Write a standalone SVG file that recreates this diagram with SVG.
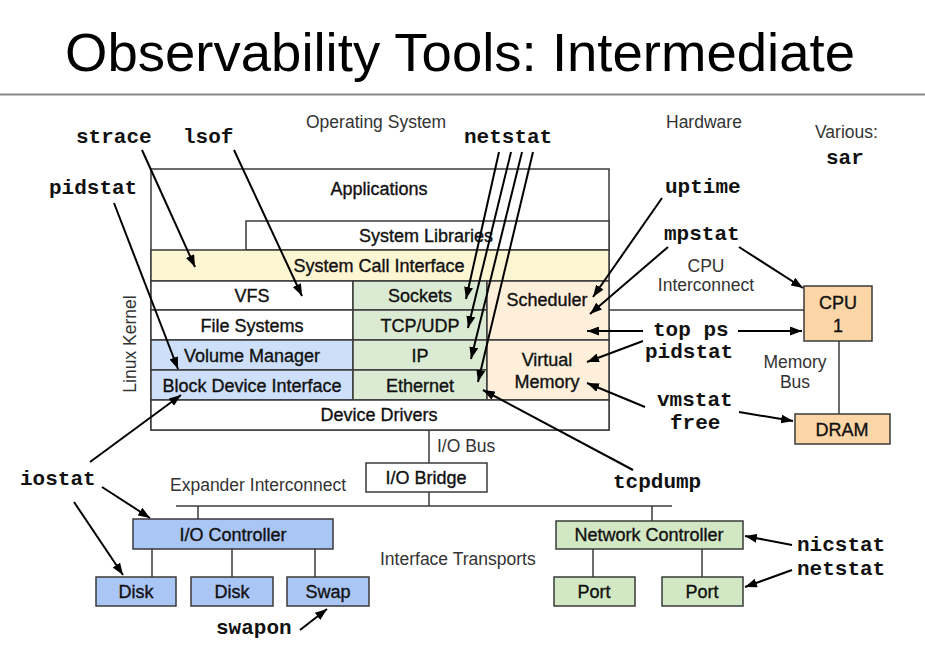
<svg xmlns="http://www.w3.org/2000/svg" width="925" height="655" viewBox="0 0 925 655">
<defs>
<marker id="ah" viewBox="0 0 12 9" refX="12" refY="4.5" markerWidth="12" markerHeight="9" markerUnits="userSpaceOnUse" orient="auto"><path d="M0,0 L12,4.5 L0,9 z" fill="#000"/></marker>
<style>
.box{stroke:#3a3a3a;stroke-width:1.5}
.w{fill:#fff}.y{fill:#fdf6d3}.g{fill:#dbead3}.lb{fill:#cddff9}.p{fill:#fdefd9}
.o{fill:#fcd6a6}.b{fill:#a9c6f5}.ng{fill:#d2e8c4}
.t{font-family:"Liberation Sans",Arial,sans-serif;font-size:18px;fill:#111;stroke:#111;stroke-width:0.35;text-anchor:middle}
.a{font-family:"Liberation Sans",Arial,sans-serif;font-size:17.5px;fill:#333}
.m{font-family:"Liberation Mono","Courier New",monospace;font-size:21px;font-weight:bold;fill:#111}
.c line{stroke:#000;stroke-width:2;marker-end:url(#ah)}
.l line{stroke:#3a3a3a;stroke-width:1.5}
</style>
</defs>
<rect width="925" height="655" fill="#fff"/>
<g id="title">
<text x="65" y="71" font-family="'Liberation Sans',Arial,sans-serif" font-size="53" textLength="790" lengthAdjust="spacingAndGlyphs" fill="#000">Observability Tools: Intermediate</text>
<line x1="0" y1="94.5" x2="925" y2="94.5" stroke="#888" stroke-width="2"/>
</g>

<g id="labels">
<text class="a" x="306" y="128">Operating System</text>
<text class="a" x="666" y="128">Hardware</text>
<text class="a" x="815" y="138">Various:</text>
<text class="a" x="706" y="272" text-anchor="middle">CPU</text>
<text class="a" x="706" y="291" text-anchor="middle">Interconnect</text>
<text class="a" x="795" y="368" text-anchor="middle">Memory</text>
<text class="a" x="795" y="388" text-anchor="middle">Bus</text>
<text class="a" x="437" y="452">I/O Bus</text>
<text class="a" x="170" y="491">Expander Interconnect</text>
<text class="a" x="380" y="565">Interface Transports</text>
<text class="a" transform="translate(136,344) rotate(-90)" text-anchor="middle">Linux Kernel</text>
</g>

<g id="tools">
<text class="m" x="76" y="143">strace</text>
<text class="m" x="183" y="143">lsof</text>
<text class="m" x="49" y="194">pidstat</text>
<text class="m" x="464" y="143">netstat</text>
<text class="m" x="826" y="164">sar</text>
<text class="m" x="665" y="193">uptime</text>
<text class="m" x="664" y="240">mpstat</text>
<text class="m" x="653" y="336">top ps</text>
<text class="m" x="645" y="358">pidstat</text>
<text class="m" x="657" y="406">vmstat</text>
<text class="m" x="670" y="429">free</text>
<text class="m" x="20" y="485">iostat</text>
<text class="m" x="613" y="488">tcpdump</text>
<text class="m" x="216" y="634">swapon</text>
<text class="m" x="797" y="551">nicstat</text>
<text class="m" x="797" y="575">netstat</text>
</g>

<g id="applications"><rect class="box w" x="151" y="169" width="458" height="261"/><text class="t" x="379" y="195">Applications</text></g>
<g id="system-libraries"><rect class="box w" x="246" y="221" width="363" height="29"/><text class="t" x="426" y="242">System Libraries</text></g>
<g id="syscall"><rect class="box y" x="151" y="250" width="458" height="31"/><text class="t" x="379" y="272">System Call Interface</text></g>
<g id="vfs"><rect class="box w" x="151" y="281" width="202" height="29"/><text class="t" x="252" y="302">VFS</text></g>
<g id="fs"><rect class="box w" x="151" y="310" width="202" height="30"/><text class="t" x="252" y="332">File Systems</text></g>
<g id="volmgr"><rect class="box lb" x="151" y="340" width="202" height="30"/><text class="t" x="252" y="362">Volume Manager</text></g>
<g id="bdi"><rect class="box lb" x="151" y="370" width="202" height="30"/><text class="t" x="252" y="392">Block Device Interface</text></g>
<g id="sockets"><rect class="box g" x="353" y="281" width="134" height="29"/><text class="t" x="420" y="302">Sockets</text></g>
<g id="tcpudp"><rect class="box g" x="353" y="310" width="134" height="30"/><text class="t" x="420" y="332">TCP/UDP</text></g>
<g id="ip"><rect class="box g" x="353" y="340" width="134" height="30"/><text class="t" x="420" y="362">IP</text></g>
<g id="ethernet"><rect class="box g" x="353" y="370" width="134" height="30"/><text class="t" x="420" y="392">Ethernet</text></g>
<g id="scheduler"><rect class="box p" x="487" y="281" width="122" height="59"/><text class="t" x="547" y="306">Scheduler</text></g>
<g id="vm"><rect class="box p" x="487" y="340" width="122" height="60"/><text class="t" x="547" y="366">Virtual</text><text class="t" x="547" y="388">Memory</text></g>
<g id="drivers"><rect class="box w" x="151" y="400" width="458" height="30"/><text class="t" x="379" y="421">Device Drivers</text></g>

<g id="cpu"><rect class="box o" x="804" y="286" width="68" height="55"/><text class="t" x="838" y="309">CPU</text><text class="t" x="838" y="332">1</text></g>
<g id="dram"><rect class="box o" x="795" y="414" width="95" height="30"/><text class="t" x="842" y="436">DRAM</text></g>
<g id="iobridge"><rect class="box w" x="366" y="463" width="121" height="29"/><text class="t" x="426" y="484">I/O Bridge</text></g>
<g id="iocontroller"><rect class="box b" x="133" y="519" width="200" height="30"/><text class="t" x="233" y="541">I/O Controller</text></g>
<g id="disk1"><rect class="box b" x="96" y="577" width="80" height="29"/><text class="t" x="136" y="598">Disk</text></g>
<g id="disk2"><rect class="box b" x="191" y="577" width="82" height="29"/><text class="t" x="232" y="598">Disk</text></g>
<g id="swap"><rect class="box b" x="287" y="577" width="82" height="29"/><text class="t" x="328" y="598">Swap</text></g>
<g id="netcontroller"><rect class="box ng" x="556" y="521" width="187" height="28"/><text class="t" x="649" y="541">Network Controller</text></g>
<g id="port1"><rect class="box ng" x="554" y="577" width="81" height="29"/><text class="t" x="594" y="598">Port</text></g>
<g id="port2"><rect class="box ng" x="662" y="577" width="81" height="29"/><text class="t" x="702" y="598">Port</text></g>

<g id="connectors">
<g class="l">
<line x1="609" y1="310" x2="804" y2="310"/>
<line x1="839" y1="341" x2="839" y2="414"/>
<line x1="429" y1="430" x2="429" y2="463"/>
<line x1="429" y1="492" x2="429" y2="506"/>
<line x1="176" y1="506" x2="672" y2="506"/>
<line x1="198" y1="506" x2="198" y2="519"/>
<line x1="652" y1="506" x2="652" y2="521"/>
<line x1="152" y1="549" x2="152" y2="577"/>
<line x1="232" y1="549" x2="232" y2="577"/>
<line x1="315" y1="549" x2="315" y2="577"/>
<line x1="593" y1="549" x2="593" y2="577"/>
<line x1="702" y1="549" x2="702" y2="577"/>
</g>
<g class="c">
<line x1="142" y1="150" x2="195" y2="267"/>
<line x1="234" y1="150" x2="302" y2="296"/>
<line x1="114" y1="203" x2="178" y2="369"/>
<line x1="499" y1="152" x2="466" y2="299"/>
<line x1="511" y1="152" x2="468" y2="328"/>
<line x1="522" y1="152" x2="471" y2="359"/>
<line x1="533" y1="152" x2="478" y2="382"/>
<line x1="662" y1="198" x2="593" y2="297"/>
<line x1="668" y1="247" x2="590" y2="314"/>
<line x1="739" y1="247" x2="803" y2="288"/>
<line x1="643" y1="331" x2="587" y2="331"/>
<line x1="738" y1="331" x2="802" y2="331"/>
<line x1="643" y1="341" x2="587" y2="362"/>
<line x1="645" y1="407" x2="587" y2="383"/>
<line x1="739" y1="412" x2="793" y2="421"/>
<line x1="633" y1="470" x2="483" y2="390"/>
<line x1="90" y1="462" x2="181" y2="395"/>
<line x1="102" y1="487" x2="150" y2="518"/>
<line x1="74" y1="502" x2="123" y2="575"/>
<line x1="300" y1="630" x2="327" y2="609"/>
<line x1="792" y1="545" x2="745" y2="536"/>
<line x1="792" y1="570" x2="745" y2="587"/>
</g>
</g>
</svg>
